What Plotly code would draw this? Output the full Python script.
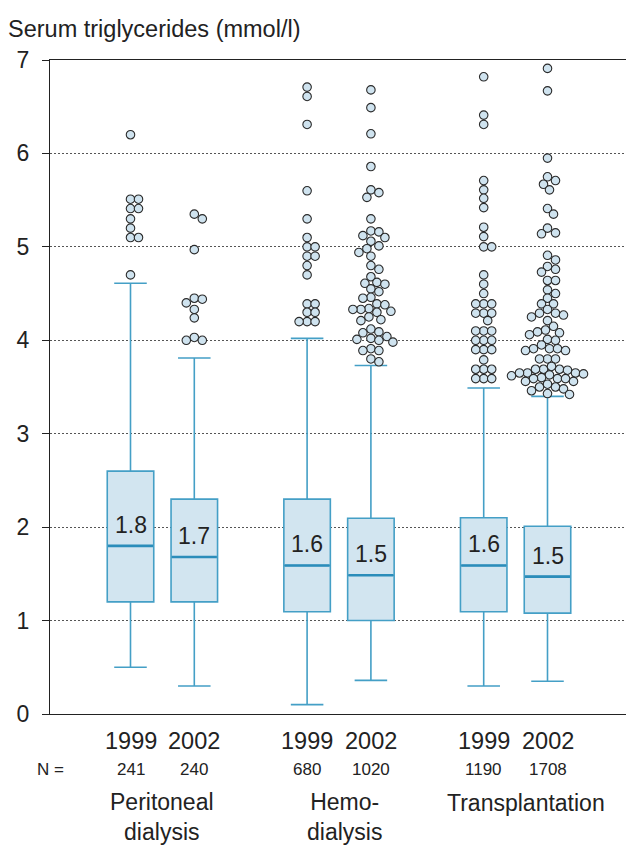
import plotly.graph_objects as go

# ---------------- data ----------------
groups = ["Peritoneal<br>dialysis", "Hemo-<br>dialysis", "Transplantation"]
years = ["1999", "2002"]
n_values = ["241", "240", "680", "1020", "1190", "1708"]
q1 = [1.20, 1.20, 1.095, 1.00, 1.095, 1.08]
medians = [1.80, 1.68, 1.59, 1.485, 1.59, 1.47]
q3 = [2.60, 2.30, 2.30, 2.095, 2.10, 2.01]
lower_whisker = [0.50, 0.30, 0.10, 0.36, 0.30, 0.35]
upper_whisker = [4.61, 3.81, 4.02, 3.73, 3.49, 3.40]
median_labels = ["1.8", "1.7", "1.6", "1.5", "1.6", "1.5"]

outliers_pd_1999 = [6.20, 5.51, 5.51, 5.41, 5.41, 5.30, 5.20, 5.10, 5.10, 4.70]
outliers_pd_2002 = [5.35, 5.30, 4.97, 4.45, 4.44, 4.40, 4.33, 4.24, 4.03, 4.00, 4.00]
outliers_hd_1999 = [6.71, 6.61, 6.31, 5.60, 5.30, 5.10, 5.00, 5.00, 4.90, 4.90, 4.80,
                    4.70, 4.39, 4.39, 4.30, 4.30, 4.20, 4.20, 4.20]
outliers_hd_2002 = [6.68, 6.49, 6.21, 5.86, 5.61, 5.58, 5.53, 5.30, 5.17, 5.16, 5.12,
                    5.10, 5.06, 5.01, 4.98, 4.94, 4.90, 4.80, 4.76, 4.68, 4.62, 4.61,
                    4.60, 4.55, 4.52, 4.46, 4.45, 4.39, 4.38, 4.34, 4.33, 4.33, 4.31,
                    4.30, 4.25, 4.22, 4.21, 4.12, 4.09, 4.08, 4.04, 4.02, 4.01, 4.00,
                    3.98, 3.91, 3.89, 3.89, 3.80, 3.77]
outliers_tx_1999 = [6.82, 6.41, 6.31, 5.71, 5.61, 5.52, 5.42, 5.21, 5.11, 5.00, 5.00,
                    4.70, 4.60, 4.50, 4.39, 4.39, 4.39, 4.29, 4.29, 4.29, 4.21, 4.10,
                    4.10, 4.10, 4.00, 4.00, 4.00, 3.90, 3.90, 3.90, 3.79, 3.69, 3.69,
                    3.69, 3.59, 3.59, 3.59]
outliers_tx_2002 = [6.91, 6.67, 5.95, 5.75, 5.71, 5.67, 5.61, 5.41, 5.35, 5.20, 5.15,
                    5.14, 4.91, 4.86, 4.79, 4.76, 4.73, 4.64, 4.64, 4.54, 4.50, 4.45,
                    4.39, 4.39, 4.33, 4.29, 4.29, 4.27, 4.25, 4.21, 4.15, 4.11, 4.09,
                    4.08, 4.06, 4.01, 4.00, 3.95, 3.91, 3.91, 3.91, 3.89, 3.89, 3.80,
                    3.80, 3.80, 3.72, 3.69, 3.69, 3.69, 3.68, 3.65, 3.65, 3.65, 3.64,
                    3.63, 3.62, 3.60, 3.59, 3.59, 3.59, 3.56, 3.56, 3.53, 3.50, 3.50,
                    3.48, 3.46, 3.43, 3.42]
outliers = [outliers_pd_1999, outliers_pd_2002, outliers_hd_1999,
            outliers_hd_2002, outliers_tx_1999, outliers_tx_2002]

# ---------------- layout constants ----------------
W, H = 626, 845
ML, MR, MT, MB = 50, 0, 60, 131
plot_w = W - ML - MR
plot_h = H - MT - MB
Y_MAX = 7
px_per_y = plot_h / Y_MAX

GROUP_PITCH = 176.6
INNER_PITCH = 63.8
X0 = -80.5  # x range start (data units = pixels)
BOX_W = 46.5

FONT = "Liberation Sans, Arial, Helvetica, sans-serif"
BOX_FILL = "#d2e5f0"
BOX_LINE = "#449fc6"
MED_LINE = "#2b8dba"
TXT = "#222222"

positions = []
for g in range(len(groups)):
    for j in range(len(years)):
        positions.append(g * GROUP_PITCH + j * INNER_PITCH)


def swarm(vals, center, d=7.8, step=2.0):
    placed = []
    xs, ys = [], []
    cands = [0.0] + [s * i * step for i in range(1, 60) for s in (1, -1)]
    for v in sorted(vals, reverse=True):
        y = v * px_per_y
        chosen = 0.0
        for c in cands:
            if all((c - px) ** 2 + (y - py) ** 2 >= d * d for px, py in placed):
                chosen = c
                break
        placed.append((chosen, y))
        xs.append(center + chosen)
        ys.append(v)
    return xs, ys


fig = go.Figure()

for i, pos in enumerate(positions):
    fig.add_trace(go.Box(
        x=[pos], q1=[q1[i]], median=[medians[i]], q3=[q3[i]],
        lowerfence=[lower_whisker[i]], upperfence=[upper_whisker[i]],
        width=BOX_W, whiskerwidth=0.7, boxpoints=False,
        fillcolor=BOX_FILL, line=dict(color=BOX_LINE, width=1.6),
        showlegend=False, hoverinfo="skip",
    ))

# thicker median lines
mx, my = [], []
for i, pos in enumerate(positions):
    mx += [pos - BOX_W / 2 + 0.8, pos + BOX_W / 2 - 0.8, None]
    my += [medians[i], medians[i], None]
fig.add_trace(go.Scatter(x=mx, y=my, mode="lines",
                         line=dict(color=MED_LINE, width=2.6),
                         showlegend=False, hoverinfo="skip"))

# outliers
ox, oy = [], []
for i, pos in enumerate(positions):
    xs, ys = swarm(outliers[i], pos)
    ox += xs
    oy += ys
fig.add_trace(go.Scatter(x=ox, y=oy, mode="markers",
                         marker=dict(size=8.5, color="#cfe3ef",
                                     line=dict(color="#2a2a2a", width=1.1)),
                         showlegend=False, hoverinfo="skip"))

annotations = []
for i, pos in enumerate(positions):
    annotations.append(dict(x=pos, y=medians[i], xref="x", yref="y", text=median_labels[i],
                            showarrow=False, yshift=21, yanchor="middle",
                            font=dict(size=23, color=TXT, family=FONT)))
    annotations.append(dict(x=pos, y=0, xref="x", yref="y", text=years[i % 2],
                            showarrow=False, yshift=-27, yanchor="middle",
                            font=dict(size=23.5, color=TXT, family=FONT)))
    annotations.append(dict(x=pos, y=0, xref="x", yref="y", text=n_values[i],
                            showarrow=False, yshift=-55, yanchor="middle",
                            font=dict(size=17, color=TXT, family=FONT)))
annotations.append(dict(x=0, y=0, xref="paper", yref="y", text="N =", showarrow=False,
                        yshift=-55, yanchor="middle", xanchor="center",
                        font=dict(size=17, color=TXT, family=FONT)))
for g, name in enumerate(groups):
    gc = g * GROUP_PITCH + INNER_PITCH / 2
    two = "<br>" in name
    annotations.append(dict(x=gc, y=0, xref="x", yref="y", text=name, showarrow=False,
                            yanchor="middle", yshift=-103 if two else -89,
                            xshift=5 * g,
                            font=dict(size=23, color=TXT, family=FONT)))

fig.update_layout(
    width=W, height=H,
    margin=dict(l=ML, r=MR, t=MT, b=MB, pad=0),
    paper_bgcolor="white", plot_bgcolor="white",
    font=dict(family=FONT, color=TXT),
    title=dict(text="Serum triglycerides (mmol/l)", x=8 / W, xanchor="left",
               xref="container", yref="container", y=1 - 29 / H, yanchor="middle",
               font=dict(size=23.5, color=TXT, family=FONT)),
    annotations=annotations,
    xaxis=dict(range=[X0, X0 + plot_w], showticklabels=False, ticks="",
               showgrid=False, zeroline=False, showline=True, mirror=True,
               linecolor="#222222", linewidth=1.3, fixedrange=True),
    yaxis=dict(range=[0, Y_MAX], tickvals=list(range(0, 8)), ticks="outside",
               ticklen=7, tickcolor="#222222", tickwidth=1.2,
               tickfont=dict(size=23, color=TXT, family=FONT),
               ticklabelstandoff=8,
               showgrid=True, gridcolor="#555555", griddash="2px,2px", gridwidth=1,
               zeroline=False, showline=True, linecolor="#222222", linewidth=1.3,
               fixedrange=True),
)

fig.write_html("out.html")
